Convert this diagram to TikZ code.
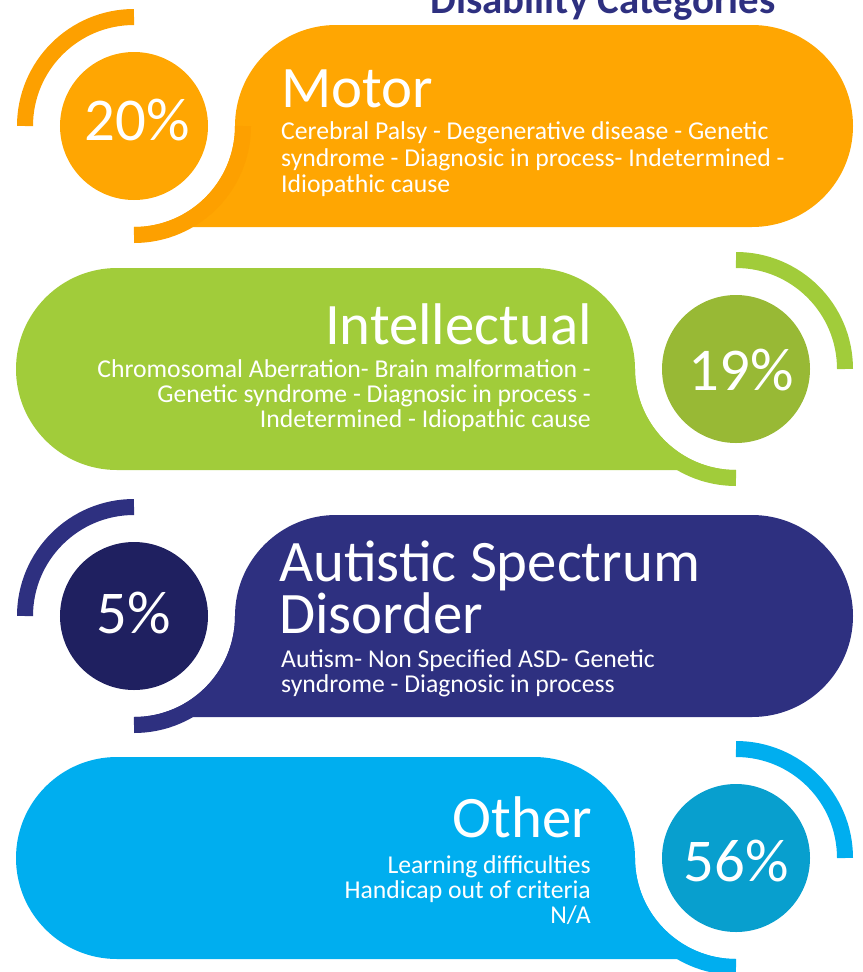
\documentclass[tikz,border=0pt]{standalone}
\usepackage{fontspec}
\setmainfont{Carlito}
\definecolor{cOr}{HTML}{FFA602}
\definecolor{cOrR}{HTML}{FDA000}
\definecolor{cGr}{HTML}{A1CC3A}
\definecolor{cGrC}{HTML}{98B935}
\definecolor{cNv}{HTML}{2E3080}
\definecolor{cNvC}{HTML}{1F2060}
\definecolor{cBl}{HTML}{00AEEF}
\definecolor{cBlC}{HTML}{089FCE}
\begin{document}
\begin{tikzpicture}[x=1bp,y=-1bp,
  ttl/.style={font=\fontsize{59}{44}\selectfont, text=white, inner sep=0pt},
  sub/.style={font=\fontsize{25.8}{26}\selectfont, text=white, inner sep=0pt},
  pct/.style={font=\fontsize{61}{61}\selectfont, text=white, inner sep=0pt},
  disc/.style={circle, minimum size=148bp, inner sep=0pt, draw=none},
  ring/.style={line width=16bp}]
\useasboundingbox (0,0) rectangle (863,972);

% title
\node[font=\bfseries\fontsize{41}{41}\selectfont, text=cNv, anchor=base, inner sep=0pt] (title) at (603,13) {Disability Categories};

% ---------- Motor ----------
\fill[cOr] (336,25) arc[start angle=270,end angle=180,radius=101]
  arc[start angle=0,end angle=90,radius=101] -- (752,227)
  arc[start angle=90,end angle=-90,radius=101] -- cycle;
\node[disc, fill=cOr] (c1) at (134,126) {};
\draw[ring, cOrR] (25,126) arc[start angle=180,end angle=270,radius=109];
\draw[ring, cOrR] (243,126) arc[start angle=0,end angle=90,radius=109];
\node[pct] (p1) at (137,120) {20\%};
\node[ttl, anchor=base west] (t1) at (281,107) {Motor};
\node[sub, anchor=base west] (s1a) at (281,139) {Cerebral Palsy - Degenerative disease - Genetic};
\node[sub, anchor=base west] (s1b) at (281,166) {syndrome - Diagnosic in process- Indetermined -};
\node[sub, anchor=base west] (s1c) at (281,192) {Idiopathic cause};

% ---------- Intellectual ----------
\fill[cGr] (117,268) -- (534,268) arc[start angle=270,end angle=360,radius=101]
  arc[start angle=180,end angle=90,radius=101] -- (117,470)
  arc[start angle=90,end angle=270,radius=101] -- cycle;
\node[disc, fill=cGrC] (c2) at (736,369) {};
\draw[ring, cGr] (736,260) arc[start angle=270,end angle=360,radius=109];
\draw[ring, cGr] (627,369) arc[start angle=180,end angle=90,radius=109];
\node[pct] (p2) at (741,370) {19\%};
\node[ttl, anchor=base east] (t2) at (592,344) {Intellectual};
\node[sub, anchor=base east] (s2a) at (591,377) {Chromosomal Aberration- Brain malformation -};
\node[sub, anchor=base east] (s2b) at (591,402) {Genetic syndrome - Diagnosic in process -};
\node[sub, anchor=base east] (s2c) at (591,427) {Indetermined - Idiopathic cause};

% ---------- Autistic ----------
\fill[cNv] (336,515) arc[start angle=270,end angle=180,radius=101]
  arc[start angle=0,end angle=90,radius=101] -- (752,717)
  arc[start angle=90,end angle=-90,radius=101] -- cycle;
\node[disc, fill=cNvC] (c3) at (134,616) {};
\draw[ring, cNv] (25,616) arc[start angle=180,end angle=270,radius=109];
\draw[ring, cNv] (243,616) arc[start angle=0,end angle=90,radius=109];
\node[pct] (p3) at (134,613) {5\%};
\node[ttl, anchor=base west, align=left] (t3) at (279,633) {Autistic Spectrum\\Disorder};
\node[sub, anchor=base west] (s3a) at (281,667) {Autism- Non Specified ASD- Genetic};
\node[sub, anchor=base west] (s3b) at (281,692) {syndrome - Diagnosic in process};

% ---------- Other ----------
\fill[cBl] (117,757) -- (534,757) arc[start angle=270,end angle=360,radius=101]
  arc[start angle=180,end angle=90,radius=101] -- (117,959)
  arc[start angle=90,end angle=270,radius=101] -- cycle;
\node[disc, fill=cBlC] (c4) at (736,858) {};
\draw[ring, cBl] (736,749) arc[start angle=270,end angle=360,radius=109];
\draw[ring, cBl] (627,858) arc[start angle=180,end angle=90,radius=109];
\node[pct] (p4) at (736,861) {56\%};
\node[ttl, anchor=base east] (t4) at (592,837) {Other};
\node[sub, anchor=base east] (s4a) at (591,873) {Learning difficulties};
\node[sub, anchor=base east] (s4b) at (591,898) {Handicap out of criteria};
\node[sub, anchor=base east] (s4c) at (591,923) {N/A};
\end{tikzpicture}
\end{document}
